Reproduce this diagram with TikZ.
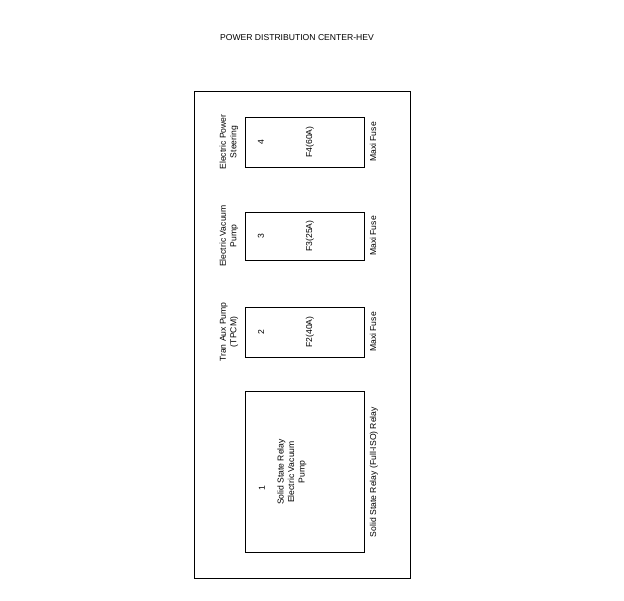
\documentclass[tikz,border=0pt]{standalone}
\usepackage{fontspec}
\setmainfont{Liberation Sans}
\begin{document}
\begin{tikzpicture}[x=1pt,y=-1pt,
  box/.style={draw,line width=0.9pt},
  txt/.style={font=\fontsize{8.6}{10.5}\selectfont,inner sep=0pt,align=center},
  rot/.style={txt,rotate=90}]
\useasboundingbox (0,0) rectangle (624,600);
\node[txt] (title) at (297,38) {POWER DISTRIBUTION CENTER-HEV};
\draw[box] (194,91) rectangle (410,578);
% fuse boxes
\draw[box] (245,117) rectangle (364,167);
\draw[box] (245,212) rectangle (364,260);
\draw[box] (245,307) rectangle (364,357);
\draw[box] (245,391) rectangle (364,552);
% F4
\node[rot] (l4) at (229,142) {Electric Power\\Steering};
\node[rot] (n4) at (261,142) {4};
\node[rot] (f4) at (310,142) {F4(60A)};
\node[rot] (m4) at (373,142) {Maxi Fuse};
% F3
\node[rot] (l3) at (229,236) {Electric Vacuum\\Pump};
\node[rot] (n3) at (261,236) {3};
\node[rot] (f3) at (310,236) {F3(25A)};
\node[rot] (m3) at (373,236) {Maxi Fuse};
% F2
\node[rot] (l2) at (229,332) {Tran Aux Pump\\(TPCM)};
\node[rot] (n2) at (261,332) {2};
\node[rot] (f2) at (310,332) {F2(40A)};
\node[rot] (m2) at (373,332) {Maxi Fuse};
% relay
\node[rot] (n1) at (262,488) {1};
\node[rot] (r1) at (292,472) {Solid State Relay\\Electric Vacuum\\Pump};
\node[rot] (m1) at (374,472) {Solid State Relay (Full-ISO) Relay};
\end{tikzpicture}
\end{document}
